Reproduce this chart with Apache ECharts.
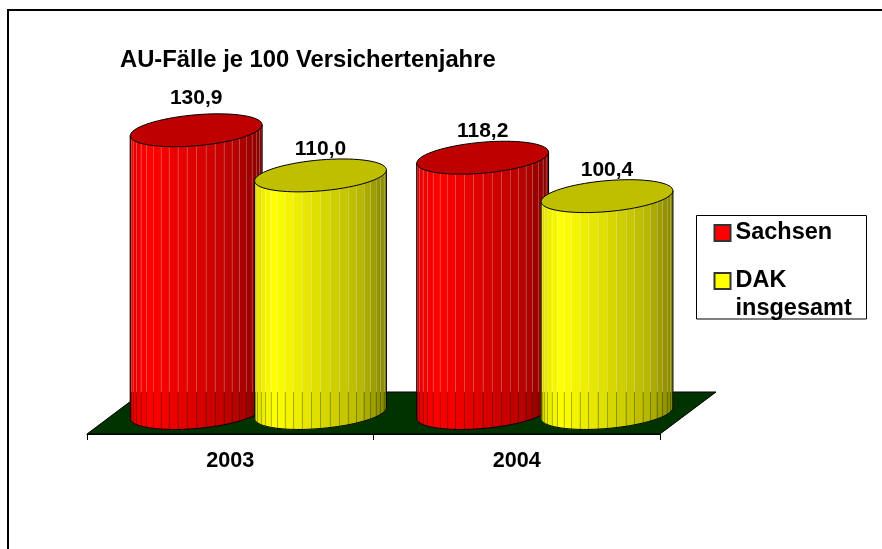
<!DOCTYPE html>
<html>
<head>
<meta charset="utf-8">
<style>html,body{margin:0;padding:0;background:#fff}#chart{width:882px;height:549px}</style>
<script src="https://cdn.jsdelivr.net/npm/echarts@6/dist/echarts.min.js"></script>
</head>
<body>
<div id="chart"></div>
<script>
const categories = ['2003', '2004']
const sachsen = [130.9, 118.2]
const dak = [110.0, 100.4]

const font = '"Liberation Sans", Arial, sans-serif'
const facets = 22
const floorDepth = 21

// side brightness from left to right of a cylinder
function shade(u) {
  const stops = [[0, 0.88], [0.15, 1], [0.5, 0.86], [0.8, 0.72], [1, 0.52]]
  for (let i = 1; i < stops.length; i++) {
    if (u <= stops[i][0]) {
      const k = (u - stops[i - 1][0]) / (stops[i][0] - stops[i - 1][0])
      return stops[i - 1][1] + k * (stops[i][1] - stops[i - 1][1])
    }
  }
  return 0.52
}

function tint(rgb, m) {
  return 'rgb(' + rgb.map(c => Math.round(c * m)).join(',') + ')'
}

function cylinder(rgb, side) {
  return function (params, api) {
    const band = api.size([1, 0])[0]
    const idx = api.value(0)
    const val = api.value(1)
    const cx = api.coord([idx, 0])[0] + band * 0.098 + side * band * 0.217
    const yBase = api.coord([idx, 0])[1]
    const yTop = api.coord([idx, val])[1]
    const a = band * 0.23
    const b = 15.5
    const tilt = 5.5
    const pt = (t, y) => [cx + a * Math.cos(t), y - tilt * Math.cos(t) + b * Math.sin(t)]
    const children = []
    const step = Math.PI / facets
    for (let i = 0; i < facets; i++) {
      const t0 = Math.PI - i * step
      const t1 = t0 - step
      const p0 = pt(t0, yTop), p1 = pt(t1, yTop), p2 = pt(t1, yBase), p3 = pt(t0, yBase)
      const u = ((p0[0] + p1[0]) / 2 - (cx - a)) / (2 * a)
      children.push({
        type: 'polygon',
        shape: { points: [p0, p1, p2, p3] },
        style: { fill: tint(rgb, shade(u)), stroke: tint(rgb, shade(u)), lineWidth: 0.5 }
      })
    }
    // seams look pale above the floor and dark where the floor is behind them
    for (let i = 1; i < facets; i++) {
      const t = Math.PI - i * step
      const top = pt(t, yTop), bot = pt(t, yBase)
      const x = Math.round(top[0]) + 0.5
      const yBack = yBase - floorDepth
      children.push({
        type: 'line',
        shape: { x1: x, y1: top[1], x2: x, y2: yBack },
        style: { stroke: 'rgba(255,255,255,0.22)', lineWidth: 1 }
      })
      children.push({
        type: 'line',
        shape: { x1: x, y1: yBack, x2: x, y2: bot[1] },
        style: { stroke: 'rgba(0,40,0,0.28)', lineWidth: 1 }
      })
    }
    const outline = [pt(Math.PI, yTop)]
    for (let i = 0; i <= 60; i++) outline.push(pt(Math.PI - i * Math.PI / 60, yBase))
    outline.push(pt(0, yTop))
    children.push({
      type: 'polyline',
      shape: { points: outline },
      style: { stroke: '#000', lineWidth: 1, fill: 'none' }
    })
    const top = []
    for (let i = 0; i < 72; i++) top.push(pt(i * Math.PI / 36, yTop))
    children.push({
      type: 'polygon',
      shape: { points: top },
      style: { fill: tint(rgb, 0.75), stroke: '#000', lineWidth: 1 }
    })
    children.push({
      type: 'text',
      x: cx,
      y: yTop - (val > 125 ? 32 : 26),
      style: {
        text: val.toFixed(1).replace('.', ','),
        fill: '#000',
        font: 'bold 21px ' + font,
        align: 'center',
        verticalAlign: 'middle'
      }
    })
    return { type: 'group', children: children }
  }
}

function floor(params, api) {
  const r = params.coordSys
  const y0 = r.y + r.height
  const dx = 56
  return {
    type: 'polygon',
    shape: {
      points: [
        [r.x, y0 + floorDepth],
        [r.x + r.width, y0 + floorDepth],
        [r.x + r.width + dx, y0 - floorDepth],
        [r.x + dx, y0 - floorDepth]
      ]
    },
    style: { fill: '#003300', stroke: '#000', lineWidth: 1 }
  }
}

const chart = echarts.init(document.getElementById('chart'), null, { renderer: 'canvas' })
chart.setOption({
  animation: false,
  backgroundColor: '#fff',
  title: {
    text: 'AU-Fälle je 100 Versichertenjahre',
    left: 120,
    top: 48,
    padding: 0,
    textStyle: { fontFamily: font, fontWeight: 'bold', fontSize: 23.8, color: '#000' }
  },
  grid: { left: 87, width: 573, top: 110.6, height: 302.4 },
  xAxis: {
    type: 'category',
    data: categories,
    offset: 21,
    z: 5,
    axisLine: { show: true, onZero: false, lineStyle: { color: '#000', width: 1 } },
    axisTick: { show: true, length: 6, lineStyle: { color: '#000' } },
    axisLabel: { color: '#000', fontFamily: font, fontWeight: 'bold', fontSize: 21.6, margin: 16 }
  },
  yAxis: { type: 'value', min: 0, max: 140, show: false, splitLine: { show: false } },
  legend: {
    data: ['Sachsen', 'DAK insgesamt'],
    orient: 'vertical',
    icon: 'rect',
    left: 713.5,
    top: 219,
    padding: 0,
    itemGap: -8,
    itemWidth: 16,
    itemHeight: 16,
    selectedMode: false,
    formatter: name => name === 'DAK insgesamt' ? '\nDAK\ninsgesamt' : name,
    textStyle: { fontFamily: font, fontWeight: 'bold', fontSize: 23.5, lineHeight: 28, color: '#000', padding: 0 }
  },
  graphic: [
    { type: 'rect', shape: { x: 8, y: 10, width: 900, height: 600 }, style: { fill: 'none', stroke: '#000', lineWidth: 2 }, z: 0 },
    { type: 'rect', shape: { x: 696.5, y: 215.5, width: 170, height: 103.5 }, style: { fill: '#fff', stroke: '#000', lineWidth: 1 }, z: 0 }
  ],
  series: [
    { type: 'custom', name: 'floor', z: 1, coordinateSystem: 'cartesian2d', renderItem: floor, data: [[0, 0]], encode: { x: 0, y: 1 }, silent: true },
    {
      type: 'custom', name: 'Sachsen', z: 2, renderItem: cylinder([255, 0, 0], -1),
      itemStyle: { color: '#ff0000', borderColor: '#333', borderWidth: 1 },
      data: sachsen.map((v, i) => [i, v]), encode: { x: 0, y: 1 }
    },
    {
      type: 'custom', name: 'DAK insgesamt', z: 3, renderItem: cylinder([255, 255, 0], 1),
      itemStyle: { color: '#ffff00', borderColor: '#333', borderWidth: 1 },
      data: dak.map((v, i) => [i, v]), encode: { x: 0, y: 1 }
    }
  ]
})
</script>
</body>
</html>
